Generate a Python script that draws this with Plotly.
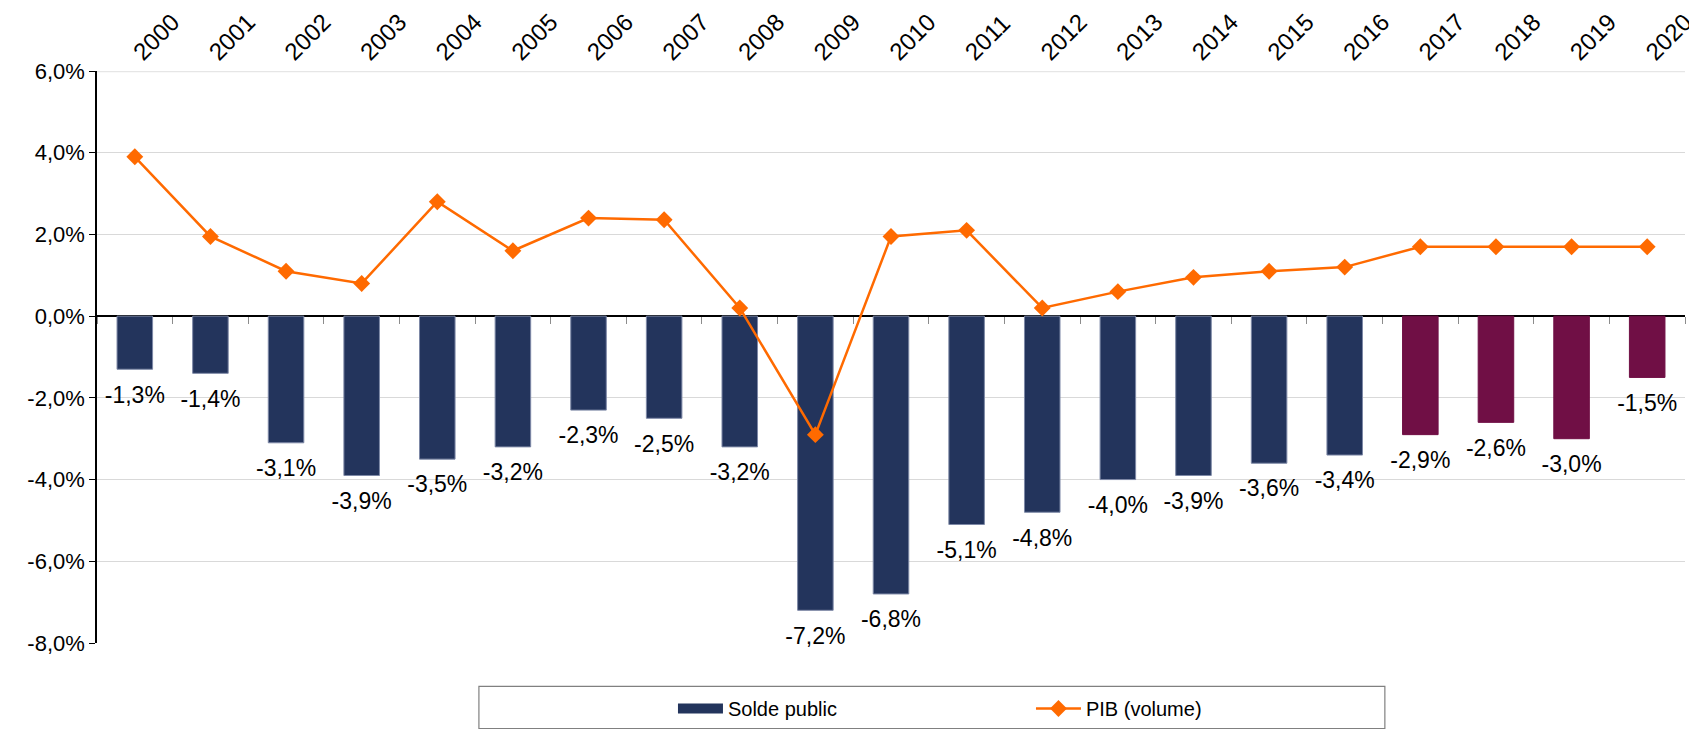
import plotly.graph_objects as go

years = [str(y) for y in range(2000, 2021)]
solde_public = [-1.3, -1.4, -3.1, -3.9, -3.5, -3.2, -2.3, -2.5, -3.2, -7.2, -6.8,
                -5.1, -4.8, -4.0, -3.9, -3.6, -3.4, -2.9, -2.6, -3.0, -1.5]
pib_volume = [3.9, 1.95, 1.1, 0.8, 2.8, 1.6, 2.4, 2.36, 0.2, -2.9, 1.95,
              2.1, 0.2, 0.6, 0.95, 1.1, 1.2, 1.7, 1.7, 1.7, 1.7]
forecast_from = "2017"
y_ticks = [-8, -6, -4, -2, 0, 2, 4, 6]


def fr_pct(v):
    return f"{v:.1f}%".replace(".", ",")


NAVY = "#23345C"
NAVY_EDGE = "#7D88A6"
PURPLE = "#700F45"
ORANGE = "#FF6A00"
FONT = "Liberation Sans, Arial, sans-serif"

bar_colors = [PURPLE if y >= forecast_from else NAVY for y in years]
bar_edges = [PURPLE if y >= forecast_from else NAVY_EDGE for y in years]
bar_text = [fr_pct(v) for v in solde_public]

fig = go.Figure()
# legend entry for the bars (wide rectangular swatch)
fig.add_trace(go.Scatter(x=[None], y=[None], mode="lines", name="Solde public",
                         line=dict(color=NAVY, width=14), hoverinfo="skip"))
fig.add_trace(go.Bar(
    x=years, y=solde_public, name="Solde public", showlegend=False,
    marker=dict(color=bar_colors, line=dict(width=1, color=bar_edges)),
    width=0.47,
))
fig.add_trace(go.Scatter(
    x=years, y=pib_volume, name="PIB (volume)", mode="lines+markers",
    line=dict(color=ORANGE, width=2.5),
    marker=dict(symbol="diamond", size=13, color=ORANGE),
    cliponaxis=False,
))
# data labels below each bar end
fig.add_trace(go.Scatter(
    x=years, y=solde_public, mode="markers+text", text=bar_text,
    textposition="bottom center", showlegend=False, hoverinfo="skip",
    marker=dict(size=24, opacity=0), cliponaxis=False,
    textfont=dict(size=23, color="#000000", family=FONT),
))
# year labels on a top axis (same categories)
fig.add_trace(go.Scatter(x=years, y=[None] * len(years), xaxis="x2", mode="markers",
                         showlegend=False, hoverinfo="skip"))

fig.update_layout(
    width=1689, height=724,
    margin=dict(l=89, r=12, t=63, b=89, autoexpand=False),
    paper_bgcolor="white", plot_bgcolor="white",
    separators=", ",
    font=dict(family=FONT, size=20, color="#000000"),
    bargap=0.53,
    showlegend=True,
    legend=dict(orientation="h", x=0.3627, xanchor="left", y=-0.1145, yanchor="middle",
                font=dict(size=20), entrywidth=298, entrywidthmode="pixels",
                bgcolor="rgba(0,0,0,0)", itemwidth=45),
    # bottom category axis sitting on the zero line: ticks at category boundaries
    xaxis=dict(type="category", anchor="free", position=(0 - (-8)) / 14, side="bottom",
               range=[-0.5, 20.5], tickson="boundaries", ticks="outside", ticklen=7,
               tickcolor="#8C8C8C", tickwidth=1, showticklabels=False,
               showgrid=False, showline=False, zeroline=False, automargin=False),
    # top axis with rotated year labels
    xaxis2=dict(type="category", overlaying="x", side="top", anchor="y",
                range=[-0.5, 20.5], tickangle=-45, ticks="", showline=False,
                showgrid=False, zeroline=False, tickfont=dict(size=24), automargin=False),
    yaxis=dict(range=[-8, 6], tickvals=y_ticks, ticktext=[fr_pct(v) for v in y_ticks],
               showgrid=True, gridcolor="#D9D9D9", gridwidth=1,
               zeroline=True, zerolinecolor="#000000", zerolinewidth=1.5,
               showline=True, linecolor="#000000", linewidth=1.5,
               ticks="outside", ticklen=6, tickcolor="#000000",
               tickfont=dict(size=22), automargin=False),
    shapes=[
        dict(type="rect", xref="paper", yref="paper", x0=0.2405, x1=0.811,
             y0=-0.1495, y1=-0.076, line=dict(color="#808080", width=1.2),
             fillcolor="rgba(0,0,0,0)", layer="below"),
        dict(type="line", xref="paper", yref="y", x0=0, x1=1, y0=6, y1=6,
             line=dict(color="#E6E6E6", width=2.5), layer="below"),
    ],
)

fig.write_html("out.html")
